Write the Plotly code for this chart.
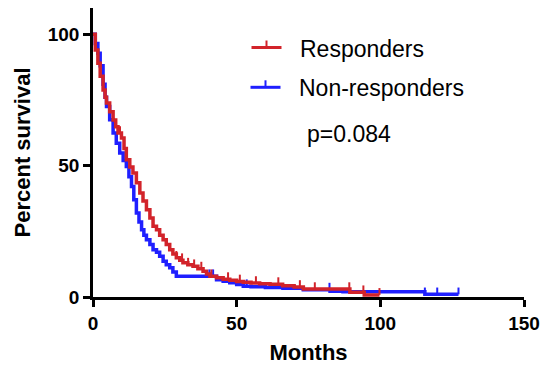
import numpy as np
import plotly.graph_objects as go

# ---------------- data ----------------
resp_times = [0, 0.8, 1.7, 2.5, 3.5, 4.2, 4.7, 5.8, 7.0, 7.9, 8.7, 9.9, 10.8, 11.6,
              12.8, 13.9, 15.1, 16.3, 17.4, 18.6, 19.8, 20.9, 22.1, 23.2, 24.4, 25.5,
              26.7, 27.8, 29.0, 30.2, 31.3, 33.0, 34.8, 36.5, 38.3, 39.5, 40.7, 43.0,
              45.3, 47.6, 50.0, 52.3, 55.0, 58.0, 61.6, 66.0, 70.0, 73.2, 89.4, 94.4]
resp_surv = [100, 94, 89, 84, 78.8, 76, 73.8, 70.5, 67.4, 64.8, 62.4, 60.5, 56.5, 52.2,
             49.5, 47.2, 43.5, 39.6, 36.5, 33.2, 30.1, 26.9, 25.6, 23.5, 21.8, 20.0,
             18.0, 16.4, 14.9, 14.0, 13.0, 12.3, 11.7, 10.8, 9.8, 8.8, 7.9, 7.3,
             6.8, 6.4, 5.9, 5.6, 5.3, 5.0, 4.9, 4.3, 3.8, 3.0, 1.8, 0.8]
resp_last = 99.7
resp_censored = [9.4, 29.0, 31.0, 33.1, 35.2, 37.7, 41.2, 47.0, 51.1, 56.7, 64.5,
                 72.0, 77.2, 89.2, 94.1, 99.7]

non_times = [0, 0.8, 1.7, 2.5, 3.5, 4.2, 4.7, 5.8, 7.0, 8.1, 9.3, 10.5, 11.6, 12.5,
             13.4, 14.2, 15.1, 16.0, 16.9, 17.7, 18.6, 19.8, 20.9, 22.1, 23.2, 24.4,
             25.5, 26.7, 27.8, 29.0, 43.0, 45.3, 47.6, 50.0, 52.3, 55.0, 60.0, 66.1,
             73.2, 82.5, 87.0, 115.5]
non_surv = [100, 96.5, 92.8, 88, 81, 76, 72.5, 67.5, 62.4, 58.5, 54.8, 52, 49.7, 45.8,
            42.1, 37, 32.0, 28.5, 25.6, 23.5, 21.8, 20.0, 18.0, 17.0, 15.5, 13.6,
            12.3, 11.1, 9.5, 7.9, 6.6, 6.0, 5.4, 4.8, 4.1, 3.9, 3.6, 3.3,
            2.8, 2.2, 2.0, 1.0]
non_last = 127.2
non_censored = [40.5, 41.8, 53.5, 82.3, 115.5, 119.8, 127.2]

series_names = ["Responders", "Non-responders"]
x_ticks = [0, 50, 100, 150]
y_ticks = [0, 50, 100]
p_label = "p=0.084"

# ---------------- styling ----------------
RED = "#d2232a"
BLUE = "#1f1fff"
FONT = "Liberation Sans, Arial, Helvetica, sans-serif"
TICK_H = 2.6  # censor tick height (percent units)


def surv_at(t, times, surv):
    i = int(np.searchsorted(times, t, side="right")) - 1
    return surv[max(i, 0)]


def km_traces(times, surv, last, censored, color, name):
    xs = list(times) + [last]
    ys = list(surv) + [surv[-1]]
    line = go.Scatter(x=xs, y=ys, mode="lines", line=dict(color=color, width=3.5, shape="hv"),
                      name=name, showlegend=False, hoverinfo="skip")
    cx, cy = [], []
    for t in censored:
        s = surv_at(t, times, surv)
        cx += [t, t, None]
        cy += [s, s + TICK_H, None]
    ticks = go.Scatter(x=cx, y=cy, mode="lines", line=dict(color=color, width=2),
                       showlegend=False, hoverinfo="skip")
    return [line, ticks]


fig = go.Figure()
for tr in km_traces(non_times, non_surv, non_last, non_censored, BLUE, series_names[1]):
    fig.add_trace(tr)
for tr in km_traces(resp_times, resp_surv, resp_last, resp_censored, RED, series_names[0]):
    fig.add_trace(tr)

W, H = 544, 367
ML, MR, MT, MB = 93, 20, 8, 70


def px_x(px):
    return (px - ML) / (W - ML - MR)


def px_y(py):
    return (H - MB - py) / (H - MT - MB)


shapes = []
annotations = []
legend_rows = [(series_names[0], RED, 47.5, 251.5, 300), (series_names[1], BLUE, 87.3, 250.5, 299)]
for name, color, yline, xl, xt in legend_rows:
    shapes.append(dict(type="line", xref="paper", yref="paper", x0=px_x(xl), x1=px_x(xl + 30),
                       y0=px_y(yline), y1=px_y(yline), line=dict(color=color, width=3)))
    shapes.append(dict(type="line", xref="paper", yref="paper", x0=px_x(xl + 15), x1=px_x(xl + 15),
                       y0=px_y(yline), y1=px_y(yline - 7), line=dict(color=color, width=2)))
    annotations.append(dict(text=name, xref="paper", yref="paper", x=px_x(xt - 2), y=px_y(yline + 1),
                            xanchor="left", yanchor="middle", showarrow=False,
                            font=dict(family=FONT, size=23, color="black")))
annotations.append(dict(text=p_label, xref="paper", yref="paper", x=px_x(305), y=px_y(134),
                        xanchor="left", yanchor="middle", showarrow=False,
                        font=dict(family=FONT, size=23, color="black")))

axis_common = dict(showline=True, linecolor="black", linewidth=2.5, ticks="outside",
                   ticklen=7, tickwidth=2.5, tickcolor="black", showgrid=False, zeroline=False,
                   automargin=False,
                   tickfont=dict(family=FONT, size=19, color="black", weight="bold"))

fig.update_layout(
    width=W, height=H,
    margin=dict(l=ML, r=MR, t=MT, b=MB, pad=0),
    paper_bgcolor="white", plot_bgcolor="white",
    showlegend=False,
    xaxis=dict(range=[0, 150], tickvals=x_ticks, ticktext=[str(v) for v in x_ticks],
               title=dict(text="Months", font=dict(family=FONT, size=22, color="black", weight="bold"),
                          standoff=13),
               **axis_common),
    yaxis=dict(range=[0, 110], tickvals=y_ticks, ticktext=[str(v) for v in y_ticks],
               title=dict(text="Percent survival", font=dict(family=FONT, size=22, color="black", weight="bold"),
                          standoff=12),
               **axis_common),
    shapes=shapes,
    annotations=annotations,
)

fig.write_html("out.html", config={"displayModeBar": False},
               post_script="document.body.style.margin='0';")
